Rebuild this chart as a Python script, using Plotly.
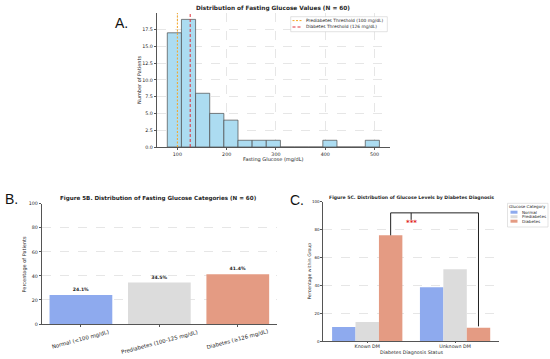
import plotly.graph_objects as go

W, H = 550, 359

# ---------- Panel A data (histogram) ----------
bin_start = 79.5
bin_width = 28.7
hist_counts = [17, 19, 8, 5, 4, 1, 1, 1, 0, 0, 0, 1, 0, 0, 1]
prediabetes_threshold = 100
diabetes_threshold = 126
threshold_names = ["Prediabetes Threshold (100 mg/dL)", "Diabetes Threshold (126 mg/dL)"]
threshold_colors = ["#f5a623", "#e0303a"]
threshold_dashes = ["2px,1.5px", "3px,2px"]

# ---------- Panel B data ----------
cat_labels = ["Normal (<100 mg/dL)", "Prediabetes (100-125 mg/dL)", "Diabetes (≥126 mg/dL)"]
cat_pct = [24.1, 34.5, 41.4]
cat_colors = ["#8eaaee", "#dcdcdc", "#e49b83"]

# ---------- Panel C data ----------
groups = ["Known DM", "Unknown DM"]
series_names = ["Normal", "Prediabetes", "Diabetes"]
series_vals = {
    "Normal": [10.3, 38.7],
    "Prediabetes": [13.8, 51.6],
    "Diabetes": [75.9, 9.7],
}

FONT = "DejaVu Sans"
TXT = "#262626"


def dx(px):
    return px / W


def dy(py):
    return 1 - py / H


fig = go.Figure()

# Panel A bars
centers = [bin_start + bin_width * (i + 0.5) for i in range(len(hist_counts))]
fig.add_trace(go.Bar(
    x=centers, y=hist_counts, width=[bin_width] * len(hist_counts),
    marker=dict(color="#acdcf1", line=dict(color="#4a4a4a", width=0.7)),
    xaxis="x", yaxis="y", showlegend=False, hoverinfo="skip"))

ymaxA = max(hist_counts) * 1.05
for thr, nm, col, ds in zip([prediabetes_threshold, diabetes_threshold], threshold_names,
                            threshold_colors, threshold_dashes):
    fig.add_trace(go.Scatter(
        x=[thr, thr], y=[0, ymaxA], mode="lines",
        line=dict(color=col, width=1, dash=ds),
        name=nm, xaxis="x", yaxis="y", showlegend=False, hoverinfo="skip"))

# Panel B bars
fig.add_trace(go.Bar(
    x=[0, 1, 2], y=cat_pct, marker=dict(color=cat_colors, line=dict(width=0)),
    width=0.8,
    text=[f"{v}%" for v in cat_pct], textposition="outside",
    textfont=dict(family=FONT, size=4.6, color=TXT, weight="bold"),
    cliponaxis=False,
    xaxis="x2", yaxis="y2", showlegend=False, hoverinfo="skip"))

# Panel C bars
offsets = [-0.8 / 3, 0, 0.8 / 3]
for k, name in enumerate(series_names):
    fig.add_trace(go.Bar(
        x=[g + offsets[k] for g in range(len(groups))], y=series_vals[name],
        width=0.8 / 3, name=name,
        marker=dict(color=cat_colors[k], line=dict(width=0)),
        xaxis="x3", yaxis="y3", showlegend=False, hoverinfo="skip"))

# bracket in Panel C
kd = series_vals["Diabetes"]
xl, xr = 0 + offsets[2], 1 + offsets[2]
ytop = 92
fig.add_trace(go.Scatter(
    x=[xl, xl, xr, xr], y=[kd[0], ytop, ytop, kd[1] + 1], mode="lines",
    line=dict(color="#222222", width=1), xaxis="x3", yaxis="y3",
    showlegend=False, hoverinfo="skip"))
fig.add_trace(go.Scatter(
    x=[0.5, 0.5], y=[ytop, 87], mode="lines",
    line=dict(color="#222222", width=1), xaxis="x3", yaxis="y3",
    showlegend=False, hoverinfo="skip"))


def ann(text, x, y, size, xanchor="center", color=TXT, family=FONT, **kw):
    return dict(text=text, x=dx(x), y=dy(y), xref="paper", yref="paper", showarrow=False,
                xanchor=xanchor, yanchor="middle", font=dict(family=family, size=size, color=color), **kw)


annotations = [
    dict(text="***", x=0.5, y=84.5, xref="x3", yref="y3", showarrow=False,
         xanchor="center", yanchor="middle",
         font=dict(family=FONT, size=7, color="#e02020", weight="bold")),
    ann("A.", 121, 23, 14, family="Liberation Sans", color="#111"),
    ann("B.", 11, 199, 14, family="Liberation Sans", color="#111"),
    ann("C.", 297, 200, 14, family="Liberation Sans", color="#111"),
    ann("<b>Distribution of Fasting Glucose Values (N = 60)</b>", 273, 9, 5.8),
    ann("<b>Figure 5B. Distribution of Fasting Glucose Categories (N = 60)</b>", 158, 198, 5.6),
    ann("<b>Figure 5C. Distribution of Glucose Levels by Diabetes Diagnosis</b>", 411, 197, 4.6),
    # axis titles
    ann("Fasting Glucose (mg/dL)", 273.3, 159.5, 5),
    ann("Number of Patients", 139, 80, 5, textangle=-90),
    ann("Percentage of Patients", 23.5, 264, 5, textangle=-90),
    ann("Percentage within Group", 309, 271.5, 4.6, textangle=-90),
    ann("Diabetes Diagnosis Status", 411, 352, 4.8),
]
for i, lab in enumerate(cat_labels):
    annotations.append(dict(text=lab, x=i, y=dy(326), xref="x2", yref="paper",
                            xanchor="center", yanchor="top", showarrow=False, textangle=-15,
                            font=dict(family=FONT, size=5.4, color=TXT)))

shapes = []
# Legend A (manual, compact)
shapes.append(dict(type="rect", xref="paper", yref="paper", x0=dx(290.7), x1=dx(387.3),
                   y0=dy(31.7), y1=dy(16.7), fillcolor="rgba(255,255,255,0.9)",
                   line=dict(color="#d0d0d0", width=0.6), layer="above"))
for j, (nm, col, ds) in enumerate(zip(threshold_names, threshold_colors, threshold_dashes)):
    yy = 20.6 + j * 6.4
    shapes.append(dict(type="line", xref="paper", yref="paper", x0=dx(292.5), x1=dx(302),
                       y0=dy(yy), y1=dy(yy), line=dict(color=col, width=1, dash=ds), layer="above"))
    annotations.append(ann(nm, 304, yy, 4.4, xanchor="left"))

# Legend C (manual, compact)
shapes.append(dict(type="rect", xref="paper", yref="paper", x0=dx(507.5), x1=dx(548),
                   y0=dy(227), y1=dy(203.3), fillcolor="white",
                   line=dict(color="#d0d0d0", width=0.6), layer="above"))
annotations.append(ann("Glucose Category", 527.7, 206.8, 4.1))
for j, (nm, col) in enumerate(zip(series_names, cat_colors)):
    yy = 212.2 + j * 4.5
    shapes.append(dict(type="rect", xref="paper", yref="paper", x0=dx(510.5), x1=dx(517.5),
                       y0=dy(yy + 1.5), y1=dy(yy - 1.5), fillcolor=col, line=dict(width=0), layer="above"))
    annotations.append(ann(nm, 519.5, yy, 4.1, xanchor="left"))

fig.update_layout(annotations=annotations, shapes=shapes)

axis_common = dict(showline=True, linecolor="#555555", linewidth=0.8, ticks="outside",
                   ticklen=2, tickcolor="#555555", tickwidth=0.6, automargin=False,
                   tickfont=dict(family=FONT, size=4.8, color=TXT), zeroline=False)
grid = dict(showgrid=True, gridcolor="#e6e6e6", gridwidth=0.6, griddash="dash")

fig.update_layout(
    template="none",
    width=W, height=H, margin=dict(l=0, r=0, t=0, b=0, autoexpand=False),
    paper_bgcolor="white", plot_bgcolor="white",
    barmode="overlay", bargap=0.2, showlegend=False, hovermode=False,
    font=dict(family=FONT, color=TXT),
    xaxis=dict(domain=[dx(156.7), dx(390)], range=[58, 531.5], anchor="y",
               tickvals=[100, 200, 300, 400, 500], **axis_common, **grid),
    yaxis=dict(domain=[dy(147), dy(13)], range=[0, ymaxA], anchor="x",
               tickvals=[0, 2.5, 5, 7.5, 10, 12.5, 15, 17.5], tickformat=".1f",
               **axis_common, **grid),
    xaxis2=dict(domain=[dx(41.7), dx(277)], range=[-0.5, 2.5], anchor="y2",
                tickvals=[0, 1, 2], showticklabels=False, showgrid=False,
                **axis_common),
    yaxis2=dict(domain=[dy(324), dy(203.7)], range=[0, 100], anchor="x2",
                tickvals=[0, 20, 40, 60, 80, 100], **axis_common, **grid),
    xaxis3=dict(domain=[dx(323.3), dx(499)], range=[-0.5, 1.5], anchor="y3",
                tickvals=[0, 1], ticktext=groups, showgrid=False, **axis_common),
    yaxis3=dict(domain=[dy(341.3), dy(201.7)], range=[0, 100], anchor="x3",
                tickvals=[0, 20, 40, 60, 80, 100], **axis_common, **grid),
)
fig.update_xaxes(tickfont=dict(size=4.8), ticklen=0.5, selector=dict(anchor="y3"))
fig.update_yaxes(tickfont=dict(size=4.0), selector=dict(anchor="x3"))

fig.write_html("out.html", config={"displayModeBar": False, "responsive": False},
               post_script="document.body.style.margin='0';document.body.style.padding='0';")
